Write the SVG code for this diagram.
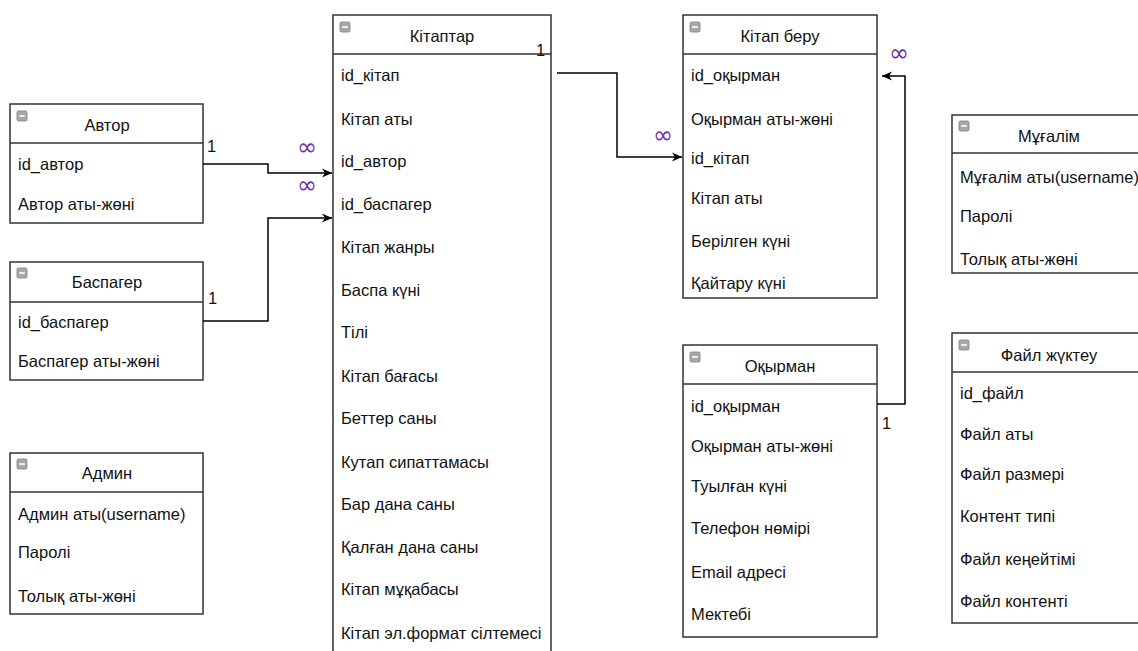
<svg xmlns="http://www.w3.org/2000/svg" width="1138" height="651" viewBox="0 0 1138 651">
<style>
.box{fill:#fff;stroke:#333;stroke-width:1.5}
.sep{stroke:#333;stroke-width:1.5}
.t{font-family:"Liberation Sans",Arial,sans-serif;font-size:16.5px;fill:#111}
.h{font-family:"Liberation Sans",Arial,sans-serif;font-size:16.5px;fill:#111;text-anchor:middle}
.ic{fill:#a8a8a8;stroke:#808080;stroke-width:0.8}
.icm{stroke:#fff;stroke-width:1.6}
.c{fill:none;stroke:#000;stroke-width:1.5}
.inf{font-family:"DejaVu Sans",sans-serif;font-size:24px;fill:#7030a0}
</style>
<defs>
<marker id="arr" viewBox="0 0 10 10" refX="10" refY="5" markerWidth="10" markerHeight="10" markerUnits="userSpaceOnUse" orient="auto">
<path d="M0,0.5 L10,5 L0,9.5 L3,5 Z" fill="#000"/>
</marker>
<g id="icon"><rect class="ic" x="0" y="0" width="10" height="10" rx="1.5"/><line class="icm" x1="2.2" y1="5" x2="7.8" y2="5"/></g>
</defs>

<g id="avtor">
<rect class="box" x="10" y="104" width="193" height="119"/>
<line class="sep" x1="10" y1="143" x2="203" y2="143"/>
<use href="#icon" x="17" y="111"/>
<text class="h" x="107" y="131">Автор</text>
<text class="t" x="18" y="170">id_автор</text>
<text class="t" x="18" y="210">Автор аты-жөні</text>
</g>

<g id="baspager">
<rect class="box" x="10" y="262" width="193" height="118"/>
<line class="sep" x1="10" y1="302" x2="203" y2="302"/>
<use href="#icon" x="17" y="268"/>
<text class="h" x="107" y="288">Баспагер</text>
<text class="t" x="18" y="328">id_баспагер</text>
<text class="t" x="18" y="367">Баспагер аты-жөні</text>
</g>

<g id="admin">
<rect class="box" x="10" y="453" width="193" height="161"/>
<line class="sep" x1="10" y1="492" x2="203" y2="492"/>
<use href="#icon" x="17" y="459"/>
<text class="h" x="107" y="479">Админ</text>
<text class="t" x="18" y="520">Админ аты(username)</text>
<text class="t" x="18" y="558">Паролі</text>
<text class="t" x="18" y="602">Толық аты-жөні</text>
</g>

<g id="kitaptar">
<rect class="box" x="333" y="15" width="218" height="650"/>
<line class="sep" x1="333" y1="54" x2="551" y2="54"/>
<use href="#icon" x="340" y="22"/>
<text class="h" x="442" y="42">Кітаптар</text>
<text class="t" x="341" y="81">id_кітап</text>
<text class="t" x="341" y="125">Кітап аты</text>
<text class="t" x="341" y="167">id_автор</text>
<text class="t" x="341" y="210">id_баспагер</text>
<text class="t" x="341" y="253">Кітап жанры</text>
<text class="t" x="341" y="296">Баспа күні</text>
<text class="t" x="341" y="338">Тілі</text>
<text class="t" x="341" y="382">Кітап бағасы</text>
<text class="t" x="341" y="424">Беттер саны</text>
<text class="t" x="341" y="468">Кутап сипаттамасы</text>
<text class="t" x="341" y="510">Бар дана саны</text>
<text class="t" x="341" y="553">Қалған дана саны</text>
<text class="t" x="341" y="595">Кітап мұқабасы</text>
<text class="t" x="341" y="639">Кітап эл.формат сілтемесі</text>
</g>

<g id="kitap-beru">
<rect class="box" x="683" y="15" width="194" height="283"/>
<line class="sep" x1="683" y1="54" x2="877" y2="54"/>
<use href="#icon" x="690" y="22"/>
<text class="h" x="780" y="42">Кітап беру</text>
<text class="t" x="691" y="81">id_оқырман</text>
<text class="t" x="691" y="125">Оқырман аты-жөні</text>
<text class="t" x="691" y="164">id_кітап</text>
<text class="t" x="691" y="204">Кітап аты</text>
<text class="t" x="691" y="247">Берілген күні</text>
<text class="t" x="691" y="289">Қайтару күні</text>
</g>

<g id="oqyrman">
<rect class="box" x="683" y="345" width="194" height="292"/>
<line class="sep" x1="683" y1="384" x2="877" y2="384"/>
<use href="#icon" x="690" y="352"/>
<text class="h" x="780" y="372">Оқырман</text>
<text class="t" x="691" y="412">id_оқырман</text>
<text class="t" x="691" y="452">Оқырман аты-жөні</text>
<text class="t" x="691" y="492">Туылған күні</text>
<text class="t" x="691" y="534">Телефон нөмірі</text>
<text class="t" x="691" y="578">Email адресі</text>
<text class="t" x="691" y="620">Мектебі</text>
</g>

<g id="mugalim">
<rect class="box" x="952" y="115" width="194" height="158"/>
<line class="sep" x1="952" y1="153" x2="1146" y2="153"/>
<use href="#icon" x="959" y="121"/>
<text class="h" x="1049" y="142">Мұғалім</text>
<text class="t" x="960" y="183">Мұғалім аты(username)</text>
<text class="t" x="960" y="222">Паролі</text>
<text class="t" x="960" y="265">Толық аты-жөні</text>
</g>

<g id="fail-zhukteu">
<rect class="box" x="952" y="333" width="194" height="290"/>
<line class="sep" x1="952" y1="372" x2="1146" y2="372"/>
<use href="#icon" x="959" y="340"/>
<text class="h" x="1049" y="361">Файл жүктеу</text>
<text class="t" x="960" y="399">id_файл</text>
<text class="t" x="960" y="440">Файл аты</text>
<text class="t" x="960" y="480">Файл размері</text>
<text class="t" x="960" y="522">Контент типі</text>
<text class="t" x="960" y="565">Файл кеңейтімі</text>
<text class="t" x="960" y="607">Файл контенті</text>
</g>

<g id="connectors">
<polyline class="c" points="203,164 268,164 268,173 332,173" marker-end="url(#arr)"/>
<polyline class="c" points="203,321 268,321 268,218 332,218" marker-end="url(#arr)"/>
<polyline class="c" points="557,73 617,73 617,157 682,157" marker-end="url(#arr)"/>
<polyline class="c" points="877,404 905,404 905,76 882,76" marker-end="url(#arr)"/>
<text class="t" x="207" y="152">1</text>
<text class="t" x="208" y="304">1</text>
<text class="t" x="536" y="56">1</text>
<text class="t" x="882" y="429">1</text>
<text class="inf" x="297" y="155">∞</text>
<text class="inf" x="297" y="193">∞</text>
<text class="inf" x="653" y="143">∞</text>
<text class="inf" x="889" y="61">∞</text>
</g>
</svg>
